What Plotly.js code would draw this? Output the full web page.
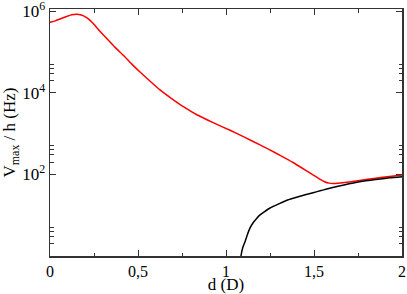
<!DOCTYPE html>
<html>
<head>
<meta charset="utf-8">
<script src="https://cdn.plot.ly/plotly-3.0.1.min.js"></script>
<style>html,body{margin:0;padding:0;background:#fff;}#chart{width:407px;height:294px;}</style>
</head>
<body>
<div id="chart"></div>
<script>
// Red curve: d (D) and Vmax/h (Hz)
var redD = [0, 0.03, 0.06, 0.09, 0.116, 0.135, 0.154, 0.172, 0.191, 0.22, 0.248, 0.285, 0.324, 0.37, 0.418, 0.465, 0.513, 0.569, 0.625, 0.683, 0.76, 0.834, 0.93, 1.023, 1.11, 1.193, 1.249, 1.31, 1.381, 1.46, 1.53, 1.56, 1.585, 1.61, 1.65, 1.70, 1.759, 1.85, 1.93, 2.0];
var redV = [5.31e5, 5.75e5, 6.46e5, 7.24e5, 7.94e5, 8.22e5, 8.32e5, 8.13e5, 7.59e5, 6.31e5, 4.79e5, 3.16e5, 2.09e5, 1.29e5, 8.13e4, 5.01e4, 3.16e4, 1.91e4, 1.17e4, 7.59e3, 4.47e3, 2.88e3, 1.82e3, 1.20e3, 794, 525, 398, 288, 195, 120, 77.6, 66.1, 61.0, 59.6, 61.7, 65.3, 70.8, 80.4, 89.1, 96.6];
// Black curve
var blackD = [1.080, 1.085, 1.095, 1.108, 1.12, 1.136, 1.155, 1.174, 1.19, 1.211, 1.25, 1.306, 1.35, 1.401, 1.45, 1.495, 1.54, 1.589, 1.67, 1.759, 1.85, 1.93, 2.0];
var blackV = [0.6, 1.0, 1.6, 2.24, 3.2, 4.8, 6.6, 8.3, 9.9, 11.5, 15.0, 19.5, 23.5, 27.5, 31.5, 35.5, 40.0, 45.7, 55, 66, 75, 82, 87];

var xTickVals = [0, 0.5, 1, 1.5, 2];
var xTickText = ['0', '0,5', '1', '1,5', '2'];
var xMinorVals = [0.25, 0.75, 1.25, 1.75];
var yTickVals = [100, 10000, 1000000];
var yTickText = ['10<sup>2</sup>', '10<sup>4</sup>', '10<sup>6</sup>'];
var yMinorVals = [2, 3, 4, 5, 200, 300, 400, 500, 20000, 30000, 40000, 50000];

var traces = [
  {x: redD, y: redV, type: 'scatter', mode: 'lines', line: {color: '#ff0000', width: 1.5, shape: 'spline', smoothing: 0.4}, hoverinfo: 'skip'},
  {x: blackD, y: blackV, type: 'scatter', mode: 'lines', line: {color: '#000000', width: 1.5, shape: 'spline', smoothing: 0.5}, hoverinfo: 'skip'}
];

var fam = 'Liberation Serif, Times New Roman, serif';

var layout = {
  width: 407, height: 294,
  margin: {l: 49.5, r: 4.5, t: 9, b: 38, pad: 0},
  paper_bgcolor: '#fff', plot_bgcolor: '#fff',
  showlegend: false,
  xaxis: {
    range: [0, 2], showgrid: false, zeroline: false,
    showline: true, linecolor: '#333', linewidth: 1.5, mirror: 'allticks',
    ticks: 'inside', ticklen: 6, tickwidth: 1, tickcolor: '#333',
    tickmode: 'array', tickvals: xTickVals, ticktext: xTickText,
    tickfont: {family: fam, size: 16, color: '#000'},
    ticklabeloverflow: 'allow',
    minor: {tickmode: 'array', tickvals: xMinorVals, ticks: 'inside', ticklen: 3.5, tickwidth: 1, tickcolor: '#333', showgrid: false},
    title: {text: 'd (D)', font: {family: fam, size: 17, color: '#000'}, standoff: 6}
  },
  yaxis: {
    type: 'log', range: [0, 6.05], showgrid: false, zeroline: false,
    showline: true, linecolor: '#333', linewidth: 1.5, mirror: 'allticks',
    ticks: 'inside', ticklen: 6, tickwidth: 1, tickcolor: '#333',
    tickmode: 'array', tickvals: yTickVals, ticktext: yTickText,
    tickfont: {family: fam, size: 17, color: '#000'},
    ticklabeloverflow: 'allow',
    minor: {tickmode: 'array', tickvals: yMinorVals, ticks: 'inside', ticklen: 3.5, tickwidth: 1, tickcolor: '#333', showgrid: false},
    title: {text: 'V<sub>max</sub> / h (Hz)', font: {family: fam, size: 17, color: '#000'}, standoff: 4}
  }
};

Plotly.newPlot('chart', traces, layout, {staticPlot: true, displayModeBar: false});
</script>
</body>
</html>
